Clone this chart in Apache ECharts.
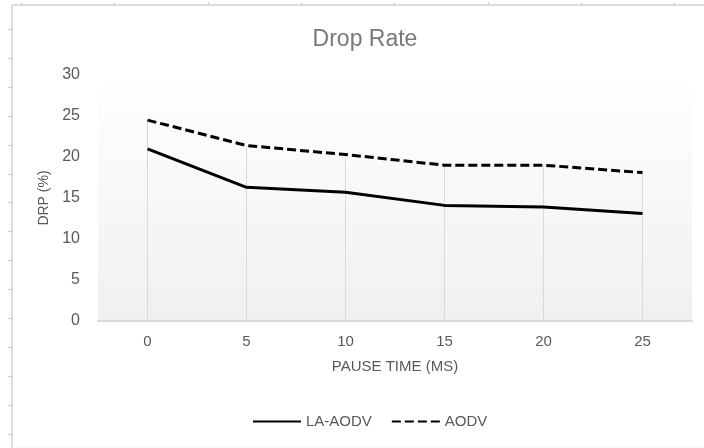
<!DOCTYPE html>
<html>
<head>
<meta charset="utf-8">
<script src="https://cdn.jsdelivr.net/npm/echarts@6/dist/echarts.min.js"></script>
<style>html,body{margin:0;padding:0;background:#fff}#c{width:704px;height:448px}</style>
</head>
<body>
<div id="c"></div>
<script>
var categories = ['0', '5', '10', '15', '20', '25'];
var laAodv = [21.0, 16.3, 15.7, 14.1, 13.9, 13.1];
var aodv = [24.5, 21.4, 20.3, 19.0, 19.0, 18.1];
var yTicks = { min: 0, max: 30, interval: 5 };

var FONT = 'Liberation Sans';
var TXT = '#595959';

var chart = echarts.init(document.getElementById('c'));

// decorative sheet frame with ruler ticks
var deco = [
  { type: 'line', shape: { x1: 12, y1: 5, x2: 704, y2: 5 }, style: { stroke: '#dcdcdc', lineWidth: 2 }, silent: true },
  { type: 'line', shape: { x1: 12, y1: 5, x2: 12, y2: 448 }, style: { stroke: '#dcdcdc', lineWidth: 2 }, silent: true },
  { type: 'line', shape: { x1: 12, y1: 447, x2: 704, y2: 447 }, style: { stroke: '#f0f0f0', lineWidth: 1 }, silent: true }
];
for (var tx = 21; tx < 704; tx += 93.3) {
  deco.push({ type: 'line', shape: { x1: Math.round(tx) + 0.5, y1: 2, x2: Math.round(tx) + 0.5, y2: 5 }, style: { stroke: '#cfcfcf', lineWidth: 1 }, silent: true });
}
for (var ty = 29; ty < 448; ty += 28.9) {
  deco.push({ type: 'line', shape: { x1: 8, y1: Math.round(ty) + 0.5, x2: 12, y2: Math.round(ty) + 0.5 }, style: { stroke: '#cfcfcf', lineWidth: 1 }, silent: true });
}

chart.setOption({
  animation: false,
  backgroundColor: '#ffffff',
  graphic: deco,
  title: {
    text: 'Drop Rate',
    left: 360,
    top: 23,
    textAlign: 'center',
    textStyle: { fontFamily: FONT, fontSize: 23, fontWeight: 'normal', color: '#787878' }
  },
  legend: {
    data: ['LA-AODV', 'AODV'],
    left: 247,
    top: 409,
    itemWidth: 48,
    itemHeight: 14,
    itemGap: 19,
    itemStyle: { opacity: 0, color: 'transparent', borderWidth: 0 },
    textStyle: { fontFamily: FONT, fontSize: 15, color: TXT }
  },
  grid: {
    left: 98, right: 12, top: 75, bottom: 127,
    show: true,
    borderWidth: 0,
    backgroundColor: {
      type: 'linear', x: 0, y: 0, x2: 0, y2: 1,
      colorStops: [{ offset: 0, color: '#ffffff' }, { offset: 1, color: '#f0f0f0' }]
    }
  },
  xAxis: {
    type: 'category',
    data: categories,
    boundaryGap: true,
    name: 'PAUSE TIME (MS)',
    nameLocation: 'middle',
    nameGap: 38,
    nameTextStyle: { fontFamily: FONT, fontSize: 15, color: TXT },
    axisLine: { show: true, lineStyle: { color: '#d9d9d9', width: 2 } },
    axisTick: { show: false },
    axisLabel: { fontFamily: FONT, fontSize: 15, color: TXT, margin: 13 },
    splitLine: { show: false }
  },
  yAxis: {
    type: 'value',
    min: yTicks.min,
    max: yTicks.max,
    interval: yTicks.interval,
    name: 'DRP (%)',
    nameLocation: 'middle',
    nameGap: 37,
    nameRotate: 90,
    nameTextStyle: { fontFamily: FONT, fontSize: 14, color: TXT },
    axisLine: { show: false },
    axisTick: { show: false },
    axisLabel: { fontFamily: FONT, fontSize: 16, color: TXT, margin: 18 },
    splitLine: { show: false }
  },
  series: [
    {
      name: 'drop',
      type: 'bar',
      data: aodv,
      barWidth: 1,
      silent: true,
      itemStyle: { color: '#d9d9d9' },
      z: 1
    },
    {
      name: 'LA-AODV',
      type: 'line',
      data: laAodv,
      symbol: 'none',
      lineStyle: { color: '#000000', width: 3, type: 'solid' },
      itemStyle: { color: '#000000' },
      z: 3
    },
    {
      name: 'AODV',
      type: 'line',
      data: aodv,
      symbol: 'none',
      lineStyle: { color: '#000000', width: 3, type: [9, 4] },
      itemStyle: { color: '#000000' },
      z: 3
    }
  ]
});
</script>
</body>
</html>
